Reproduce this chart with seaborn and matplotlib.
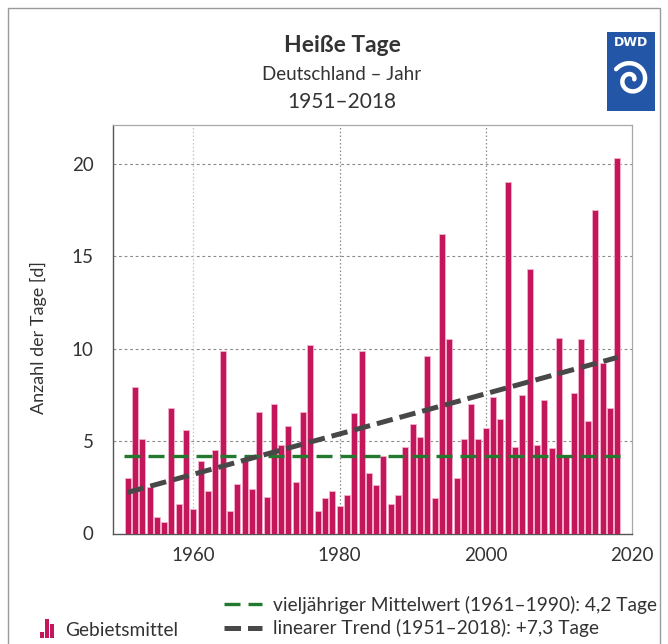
import numpy as np
import pandas as pd
import matplotlib
matplotlib.use("Agg")
import matplotlib.pyplot as plt
import seaborn as sns
from matplotlib.lines import Line2D
from matplotlib.patches import Rectangle
from matplotlib.legend_handler import HandlerBase

# ─────────────────────────────────────────────
# Heiße Tage – Deutschland, Jahr 1951–2018 (DWD)
# ─────────────────────────────────────────────

years = list(range(1951, 2019))
hot_days = [3.0, 7.9, 5.1, 2.5, 0.9, 0.6, 6.8, 1.6, 5.6, 1.3,
            3.9, 2.3, 4.5, 9.9, 1.2, 2.7, 3.9, 2.4, 6.6, 2.0,
            7.0, 4.8, 5.8, 2.8, 6.6, 10.2, 1.2, 1.9, 2.3, 1.5,
            2.1, 6.5, 9.9, 3.3, 2.6, 4.2, 1.6, 2.1, 4.7, 5.9,
            5.2, 9.6, 1.9, 16.2, 10.5, 3.0, 5.1, 7.0, 5.1, 5.7,
            7.4, 6.2, 19.0, 4.7, 7.5, 14.3, 4.8, 7.2, 4.6, 10.6,
            4.2, 7.6, 10.5, 6.1, 17.5, 9.2, 6.8, 20.3]
x_ticks = [1960, 1980, 2000, 2020]
y_ticks = [0, 5, 10, 15, 20]

BAR_COLOR  = "#c4165b"
BAR_EDGE   = "#f4b3cc"
MEAN_COLOR = "#237a2e"
TREND_COLOR = "#484848"
DWD_BLUE   = "#2356a6"

MEAN_LW, MEAN_DASH = 2.4, (0, (4.8, 2.4))
TREND_LW, TREND_DASH = 3.6, (0, (3.3, 1.4))

df = pd.DataFrame({"year": years, "days": hot_days})

# reference mean 1961-1990 and linear trend
ref = df[(df["year"] >= 1961) & (df["year"] <= 1990)]
mean_ref = ref["days"].mean()
coef = np.polyfit(df["year"], df["days"], 1)
df["trend"] = np.polyval(coef, df["year"])

sns.set_theme(style="white")
plt.rcParams["font.family"] = ["Lato", "DejaVu Sans"]

fig = plt.figure(figsize=(6.68, 6.44), dpi=100)
ax = fig.add_axes([113 / 668, 1 - 533.5 / 644, 519 / 668, 408.5 / 644])

sns.barplot(data=df, x="year", y="days", native_scale=True, color=BAR_COLOR,
            saturation=1, edgecolor=BAR_EDGE, linewidth=0.6, width=0.82,
            errorbar=None, ax=ax, zorder=3)

x0, x1 = years[0] - 0.45, years[-1] + 0.45
ax.plot([x0, x1], [mean_ref, mean_ref], color=MEAN_COLOR, lw=MEAN_LW,
        linestyle=MEAN_DASH, zorder=4)
sns.lineplot(data=df, x="year", y="trend", color=TREND_COLOR, lw=TREND_LW,
             linestyle=TREND_DASH, ax=ax, zorder=5)

ax.set_xlim(1949, 2020)
ax.set_ylim(0, 22.1)
ax.set_xticks(x_ticks)
ax.set_yticks(y_ticks)
ax.set_xlabel("")
ax.set_ylabel("Anzahl der Tage [d]", fontsize=13, color="#333333")
ax.yaxis.set_label_coords(-0.128, 0.48)

for y in y_ticks[1:]:
    ax.axhline(y, color="#8a8a8a", lw=0.8, linestyle=(0, (2.5, 2.5)), zorder=1)
for xv in x_ticks[:-1]:
    ax.axvline(xv, color="#8a8a8a" if xv > 1960 else "#c4c4c4", lw=0.9,
               linestyle=(0, (1.2, 1.8)), zorder=1)

ax.tick_params(axis="both", direction="out", length=4, width=0.9,
               color="#555555", labelsize=13.5, labelcolor="#333333", pad=6)
ax.tick_params(axis="y", pad=10)
for side in ["left", "bottom"]:
    ax.spines[side].set_color("#555555")
    ax.spines[side].set_linewidth(1.0)
for side in ["top", "right"]:
    ax.spines[side].set_color("#a8a8a8")
    ax.spines[side].set_linewidth(0.9)

# titles
fig.text(342 / 668, 1 - 45 / 644, "Heiße Tage", ha="center", va="center",
         fontsize=16.5, fontweight="bold", color="#333333")
fig.text(342 / 668, 1 - 74 / 644, "Deutschland – Jahr", ha="center", va="center",
         fontsize=13.5, color="#333333")
fig.text(342 / 668, 1 - 102 / 644, "1951–2018", ha="center", va="center",
         fontsize=15, color="#333333")

# frame round the figure
fig.patches.append(Rectangle((8 / 668, -0.02), 652 / 668, 1.02 - 8 / 644,
                             transform=fig.transFigure, fill=False,
                             edgecolor="#9a9a9a", lw=1.0))

# DWD logo
lax = fig.add_axes([607 / 668, 1 - 111 / 644, 48 / 668, 79 / 644])
lax.set_facecolor(DWD_BLUE)
lax.set_xlim(0, 48)
lax.set_ylim(0, 79)
lax.set_xticks([])
lax.set_yticks([])
for s in lax.spines.values():
    s.set_visible(False)
lax.text(24, 68, "DWD", ha="center", va="center", color="white",
         fontsize=9, fontweight="bold", family="DejaVu Sans")
th = np.linspace(0.2, 2.8 * np.pi, 200)
r = 3.0 + 1.75 * th
lax.plot(24 + r * np.cos(th), 31 + r * np.sin(th), color="white", lw=3.2,
         solid_capstyle="round")


# legend
class BarIcon(HandlerBase):
    def create_artists(self, legend, orig_handle, xdescent, ydescent,
                       width, height, fontsize, trans):
        w = width / 3.6
        arts = []
        for i, h in enumerate([0.45, 1.45, 1.05]):
            arts.append(Rectangle((-xdescent + i * w * 1.3, -ydescent - 2), w,
                                  height * h, facecolor=BAR_COLOR,
                                  edgecolor="none", transform=trans))
        return arts


fig.legend(handles=[Rectangle((0, 0), 1, 1)], labels=["Gebietsmittel"],
           handler_map={Rectangle: BarIcon()}, loc="center left",
           bbox_to_anchor=(40 / 668, 1 - 630 / 644), frameon=False,
           handlelength=0.75, handletextpad=0.55, fontsize=13.8,
           borderpad=0, borderaxespad=0, labelcolor="#333333")

line_handles = [
    Line2D([], [], color=MEAN_COLOR, lw=MEAN_LW, linestyle=MEAN_DASH),
    Line2D([], [], color=TREND_COLOR, lw=TREND_LW, linestyle=TREND_DASH),
]
line_labels = ["vieljähriger Mittelwert (1961–1990): 4,2 Tage",
               "linearer Trend (1951–2018): +7,3 Tage"]
fig.legend(handles=line_handles, labels=line_labels, loc="center left",
           bbox_to_anchor=(224 / 668, 1 - 616.5 / 644), frameon=False,
           handlelength=2.0, handletextpad=0.55, labelspacing=0.3,
           fontsize=13.8, borderpad=0, borderaxespad=0, labelcolor="#333333")

fig.savefig("out.png", dpi=100)
plt.close()
